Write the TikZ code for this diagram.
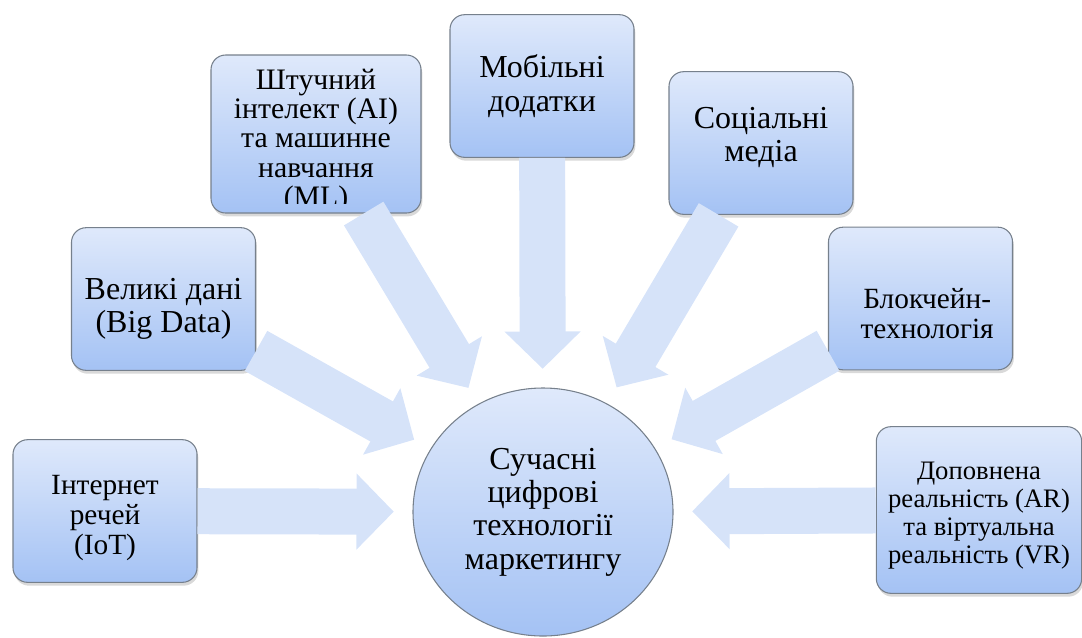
\documentclass[tikz,border=0pt]{standalone}
\usepackage{fontspec}
\setmainfont{Liberation Serif}
\usetikzlibrary{shapes.geometric,arrows.meta,shadows}

\definecolor{boxtop}{RGB}{223,233,251}
\definecolor{boxbot}{RGB}{164,194,244}
\definecolor{boxline}{RGB}{118,128,140}
\definecolor{arrowblue}{RGB}{214,227,249}

\tikzset{
  item/.style={rectangle, rounded corners=11pt, draw=boxline, line width=0.8pt,
    top color=boxtop, bottom color=boxbot, inner sep=0pt,
    minimum width=138pt, minimum height=107pt,
    drop shadow={opacity=0.3, shadow xshift=1pt, shadow yshift=-2.5pt}},
  itemtext/.style n args={3}{path picture={
    \clip ([yshift=7.5pt]path picture bounding box.south west)
      rectangle (path picture bounding box.north east);
    \node[draw=none, fill=none, shade=false, inner sep=0pt, align=center,
      font=#1] at ([#2]path picture bounding box.center) {#3};}},
  hub/.style={ellipse, draw=boxline, line width=0.8pt,
    top color=boxtop, bottom color=boxbot, align=center, inner sep=0pt,
    minimum width=195pt, minimum height=186pt,
    font=\fontsize{24}{25}\selectfont},
  feed/.style={draw=arrowblue, line width=34.5pt,
    -{Triangle[width=55.5pt,length=28pt]}, shorten >=14pt}
}

\begin{document}
\begin{tikzpicture}[x=0.75pt,y=-0.75pt]
\useasboundingbox (0,0) rectangle (1082,637);

\node[hub] (hub) at (543,512) {Сучасні\\цифрові\\технології\\маркетингу};

\node[item, itemtext={\fontsize{22}{22.5}\selectfont}{yshift=-5pt}
  {Інтернет\\речей\\(IoT)}] (iot) at (105,511) {};
\node[item, itemtext={\fontsize{24}{25}\selectfont}{yshift=-7.5pt}
  {Великі дані\\(Big Data)}] (bigdata) at (163.5,299) {};
\node[item, minimum width=157.5pt, minimum height=118.5pt,
  itemtext={\fontsize{22.3}{22}\selectfont}{yshift=-5pt}
  {Штучний\\інтелект (AI)\\та машинне\\навчання\\(ML)}] (ai) at (316,134) {};
\node[item, itemtext={\fontsize{24}{25}\selectfont}{yshift=0pt}
  {Мобільні\\додатки}] (mobile) at (542,86) {};
\node[item, itemtext={\fontsize{24}{25}\selectfont}{yshift=4pt}
  {Соціальні\\медіа}] (social) at (761,143) {};
\node[item, itemtext={\fontsize{22}{22.5}\selectfont}{xshift=5pt,yshift=-11pt}
  {Блокчейн-\\технологія}] (chain) at (920.5,298.5) {};
\node[item, minimum width=154pt, minimum height=125pt,
  itemtext={\fontsize{20}{21}\selectfont}{yshift=-4pt}
  {Доповнена\\реальність (AR)\\та віртуальна\\реальність (VR)}] (ar) at (979,510) {};

\draw[feed] (iot) -- (hub);
\draw[feed] (bigdata) -- (hub);
\draw[feed] (ai) -- (hub);
\draw[feed] (mobile) -- (hub);
\draw[feed] (social) -- (hub);
\draw[feed] (chain) -- (hub);
\draw[feed] (ar) -- (hub);

\end{tikzpicture}
\end{document}
